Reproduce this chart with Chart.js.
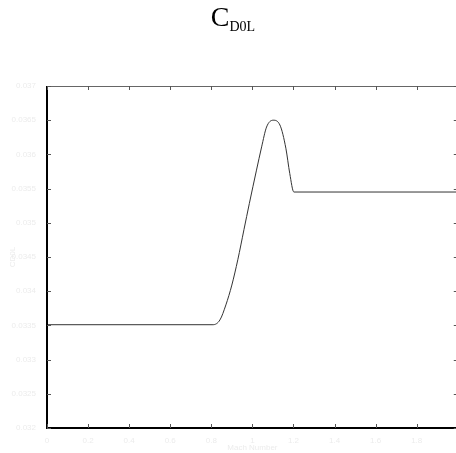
<!DOCTYPE html>
<html>
<head>
<meta charset="utf-8">
<script src="https://cdn.jsdelivr.net/npm/chart.js@4"></script>
<style>
  html, body { margin: 0; padding: 0; background: #fff; overflow: hidden; }
  #wrap { position: relative; width: 460px; height: 453px; }
  #title {
    position: absolute; left: 0; top: 3px; width: 466px; text-align: center;
    font-family: "Liberation Serif", "Times New Roman", serif; font-size: 28px;
    line-height: 28px; color: #000;
  }
  #title span { font-size: 14px; position: relative; top: 5px; }
</style>
</head>
<body>
<div id="wrap">
  <canvas id="chart" width="460" height="453"></canvas>
  <div id="title">C<span>D0L</span></div>
</div>
<script>
// Mach number vs CD0L
const machValues = [0, 0.808, 0.842, 0.871, 0.900, 0.929, 0.959, 0.985, 1.020, 1.045, 1.069, 1.101, 1.134, 1.163, 1.182, 1.202, 2.0];
const cd0lValues = [0.03351, 0.03351, 0.03358, 0.03380, 0.03409, 0.03446, 0.03490, 0.03528, 0.03577, 0.03611, 0.03640, 0.03650, 0.03643, 0.03609, 0.03572, 0.03545, 0.03545];

const xTitle = 'Mach Number';
const yTitle = 'CD0L';
const faint = '#ececec';

// inward tick marks + frame, drawn from the library scales
const framePlugin = {
    id: 'frame',
    afterDraw(chart) {
        const ctx = chart.ctx;
        const a = chart.chartArea;
        const xs = chart.scales.x;
        const ys = chart.scales.y;
        ctx.save();
        ctx.strokeStyle = '#666';
        ctx.lineWidth = 1;
        ctx.beginPath();
        ctx.moveTo(a.left, a.top + 0.5);
        ctx.lineTo(a.right, a.top + 0.5);
        ctx.moveTo(a.right - 0.5, a.top);
        ctx.lineTo(a.right - 0.5, a.bottom);
        ctx.stroke();

        ctx.strokeStyle = '#000';
        ctx.lineWidth = 2;
        ctx.beginPath();
        ctx.moveTo(a.left, a.top);
        ctx.lineTo(a.left, a.bottom);
        ctx.lineTo(a.right, a.bottom);
        ctx.stroke();

        ctx.strokeStyle = '#555';
        ctx.lineWidth = 1;
        ctx.beginPath();
        xs.ticks.forEach((t, i) => {
            const px = Math.round(xs.getPixelForTick(i)) + 0.5;
            ctx.moveTo(px, a.bottom);
            ctx.lineTo(px, a.bottom - 4);
            ctx.moveTo(px, a.top);
            ctx.lineTo(px, a.top + 4);
        });
        ys.ticks.forEach((t, i) => {
            const py = Math.round(ys.getPixelForTick(i)) + 0.5;
            ctx.moveTo(a.left, py);
            ctx.lineTo(a.left + 4, py);
            ctx.moveTo(a.right, py);
            ctx.lineTo(a.right - 4, py);
        });
        ctx.stroke();
        ctx.restore();
    }
};

const points = machValues.map((m, i) => ({ x: m, y: cd0lValues[i] }));

new Chart(document.getElementById('chart').getContext('2d'), {
    type: 'line',
    data: {
        datasets: [{
            data: points,
            borderColor: '#333',
            borderWidth: 1,
            pointRadius: 0,
            fill: false,
            cubicInterpolationMode: 'monotone'
        }]
    },
    options: {
        responsive: false,
        animation: false,
        layout: { padding: { top: 86, right: 2, left: 0, bottom: 0 } },
        plugins: { legend: { display: false }, tooltip: { enabled: false } },
        scales: {
            x: {
                type: 'linear',
                min: 0,
                max: 2,
                grid: { display: false },
                border: { display: false },
                ticks: {
                    stepSize: 0.2,
                    color: faint,
                    padding: 0,
                    maxRotation: 0,
                    font: { family: 'Liberation Sans', size: 8 },
                    callback: v => String(+v.toFixed(1))
                },
                title: {
                    display: true, text: xTitle, color: faint,
                    padding: { top: 0, bottom: 0 },
                    font: { family: 'Liberation Sans', size: 8 }
                },
                afterFit: s => { s.height = 25; }
            },
            y: {
                min: 0.032,
                max: 0.037,
                grid: { display: false },
                border: { display: false },
                ticks: {
                    stepSize: 0.0005,
                    color: faint,
                    padding: 3,
                    font: { family: 'Liberation Sans', size: 8 },
                    callback: v => String(+v.toFixed(4))
                },
                title: {
                    display: true, text: yTitle, color: faint,
                    padding: { top: 8, bottom: 0 },
                    font: { family: 'Liberation Sans', size: 8 }
                },
                afterFit: s => { s.width = 47; }
            }
        }
    },
    plugins: [framePlugin]
});
</script>
</body>
</html>
